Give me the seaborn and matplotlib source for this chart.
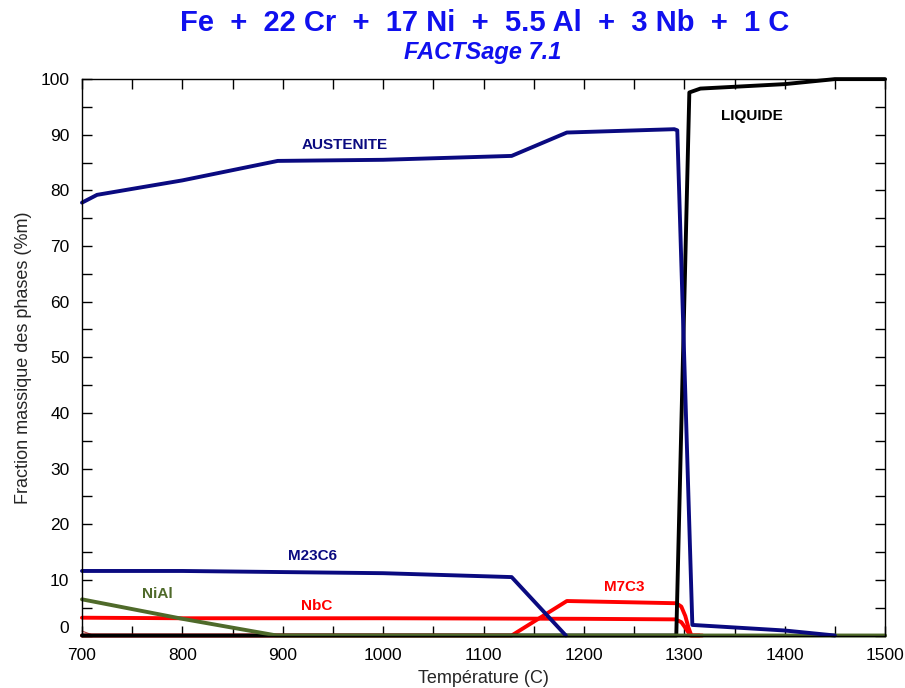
import matplotlib
matplotlib.use("Agg")
import matplotlib.pyplot as plt
import seaborn as sns
import pandas as pd
from matplotlib.ticker import MultipleLocator

# ---- data ----
aust_T = [700, 715, 800, 895, 1000, 1128, 1183, 1290, 1293, 1308, 1400, 1450]
aust_v = [77.8, 79.2, 81.8, 85.3, 85.5, 86.2, 90.4, 91.0, 90.8, 1.9, 0.9, 0.0]

liq_T = [700, 1292, 1305, 1316, 1400, 1450, 1500]
liq_v = [0.0, 0.0, 97.6, 98.3, 99.1, 100.0, 100.0]

m23_T = [700, 800, 900, 1000, 1128, 1182]
m23_v = [11.6, 11.6, 11.4, 11.2, 10.5, 0.0]

nial_T = [700, 800, 894, 1500]
nial_v = [6.5, 3.0, 0.0, 0.0]

nbc_T = [700, 800, 1000, 1200, 1291, 1297, 1301, 1306, 1315]
nbc_v = [3.2, 3.1, 3.1, 3.0, 2.9, 2.4, 1.4, 0.0, 0.0]

m7_T = [700, 1128, 1183, 1292, 1297, 1301, 1304, 1307, 1318]
m7_v = [0.0, 0.0, 6.2, 5.8, 5.2, 3.5, 1.5, 0.0, 0.0]

minor_T = [700, 712]
minor_v = [0.8, 0.0]

labels = ["AUSTENITE", "LIQUIDE", "M23C6", "NiAl", "NbC", "M7C3"]
label_T = [962, 1367, 930, 775, 934, 1240]
label_v = [88.2, 93.4, 14.3, 7.5, 5.3, 8.7]

x_ticks = [700, 800, 900, 1000, 1100, 1200, 1300, 1400, 1500]
y_ticks = [0, 10, 20, 30, 40, 50, 60, 70, 80, 90, 100]

title = "Fe  +  22 Cr  +  17 Ni  +  5.5 Al  +  3 Nb  +  1 C"
subtitle = "FACTSage 7.1"
xlabel = "Température (C)"
ylabel = "Fraction massique des phases (%m)"

# ---- styling ----
sns.set_style("ticks")
plt.rcParams["font.family"] = ["Liberation Sans", "DejaVu Sans"]

navy = "#0A0A80"
red = "#FF0000"
olive = "#4F6A2A"

fig = plt.figure(figsize=(9.05, 6.88), dpi=100)
ax = fig.add_axes([0.0906, 0.0763, 0.8874, 0.8087])

lw = 2.8
series = [
    ("minor", minor_T, minor_v, "#B04040", 0.8),
    ("M7C3", m7_T, m7_v, red, lw),
    ("NbC", nbc_T, nbc_v, red, lw),
    ("LIQUIDE", liq_T, liq_v, "black", lw),
    ("NiAl", nial_T, nial_v, olive, lw),
    ("M23C6", m23_T, m23_v, navy, lw),
    ("AUSTENITE", aust_T, aust_v, navy, lw),
]
for name, T, v, c, w in series:
    df = pd.DataFrame({"T": T, "v": v})
    sns.lineplot(data=df, x="T", y="v", ax=ax, color=c, lw=w,
                 estimator=None, sort=False, clip_on=False)

label_colors = [navy, "black", navy, olive, red, red]
for lab, t, v, c in zip(labels, label_T, label_v, label_colors):
    ax.text(t, v, lab, color=c, fontsize=11, fontweight="bold",
            ha="center", va="center")

ax.set_xlim(700, 1500)
ax.set_ylim(0, 100)
ax.set_xticks(x_ticks)
ax.set_yticks(y_ticks)
ax.xaxis.set_minor_locator(MultipleLocator(50))
ax.yaxis.set_minor_locator(MultipleLocator(5))
ax.tick_params(which="both", direction="in", top=True, right=True,
               labelsize=12.5, colors="black")
ax.tick_params(axis="x", which="major", pad=9)
ax.tick_params(axis="y", which="major", pad=9)
ax.tick_params(which="major", length=7, width=1)
ax.tick_params(which="minor", length=7, width=1)
for sp in ax.spines.values():
    sp.set_color("black")
    sp.set_linewidth(1)
ax.set_xlabel(xlabel, fontsize=13, labelpad=5)
ax.set_ylabel(ylabel, fontsize=13, labelpad=6)
ylabs = ax.get_yticklabels()
ylabs[0].set_va("bottom")

fig.text(0.536, 0.966, title, color="#1010EE", fontsize=21,
         fontweight="bold", ha="center", va="center")
fig.text(0.533, 0.923, subtitle, color="#1010EE", fontsize=17,
         fontweight="bold", fontstyle="italic", ha="center", va="center")

fig.savefig("out.png", dpi=100)
